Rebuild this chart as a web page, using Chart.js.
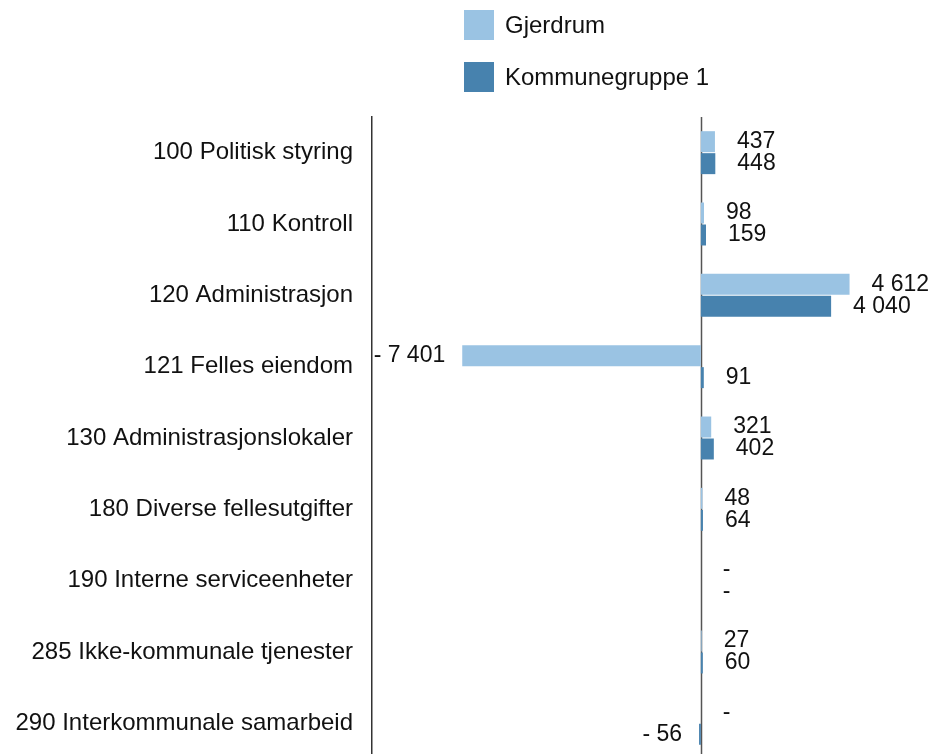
<!DOCTYPE html>
<html>
<head>
<meta charset="utf-8">
<script src="https://cdn.jsdelivr.net/npm/chart.js@4.4.1/dist/chart.umd.min.js"></script>
<style>
  html, body { margin: 0; padding: 0; background: #fff; overflow: hidden; }
  #wrap { position: relative; width: 933px; height: 759px; }
  #legend { position: absolute; left: 464px; top: 10px; font-family: "Liberation Sans", Arial, sans-serif; font-size: 24px; color: #111; }
  #legend .item { display: flex; align-items: center; height: 30px; margin-bottom: 22px; }
  #legend .box { width: 30px; height: 30px; margin-right: 11px; }
</style>
</head>
<body>
<div id="wrap">
  <canvas id="chart" width="933" height="759"></canvas>
  <div id="legend"></div>
</div>
<script>
var categories = [
  '100 Politisk styring',
  '110 Kontroll',
  '120 Administrasjon',
  '121 Felles eiendom',
  '130 Administrasjonslokaler',
  '180 Diverse fellesutgifter',
  '190 Interne serviceenheter',
  '285 Ikke-kommunale tjenester',
  '290 Interkommunale samarbeid'
];
var gjerdrum = [437, 98, 4612, -7401, 321, 48, 0, 27, 0];
var kommunegruppe = [448, 159, 4040, 91, 402, 64, 0, 60, -56];
var seriesNames = ['Gjerdrum', 'Kommunegruppe 1'];
var seriesColors = ['#9ac3e3', '#4782ae'];

var fontFamily = '"Liberation Sans", Arial, sans-serif';

// norsk tallformat: mellomrom som tusenskille, "-" for null
function formatValue(v) {
  if (v === 0) {
    return '-';
  }
  var s = Math.abs(v).toString().replace(/\B(?=(\d{3})+(?!\d))/g, ' ');
  return v < 0 ? '- ' + s : s;
}

// loddrett nullinje gjennom hele plottet
var zeroLine = {
  id: 'zeroLine',
  beforeDatasetsDraw(chart) {
    var ctx = chart.ctx;
    var x = Math.round(chart.scales.x.getPixelForValue(0)) + 0.5;
    ctx.save();
    ctx.strokeStyle = '#555';
    ctx.lineWidth = 1.5;
    ctx.beginPath();
    ctx.moveTo(x, chart.chartArea.top);
    ctx.lineTo(x, chart.chartArea.bottom);
    ctx.stroke();
    ctx.restore();
  }
};

var valueLabels = {
  id: 'valueLabels',
  afterDatasetsDraw(chart) {
    var ctx = chart.ctx;
    ctx.save();
    ctx.font = '23px ' + fontFamily;
    ctx.fillStyle = '#111';
    ctx.textBaseline = 'middle';
    chart.data.datasets.forEach((ds, i) => {
      var meta = chart.getDatasetMeta(i);
      meta.data.forEach((bar, j) => {
        var v = ds.data[j];
        var text = formatValue(v);
        if (v < 0) {
          ctx.textAlign = 'right';
          ctx.fillText(text, bar.x - 17, bar.y);
        } else {
          ctx.textAlign = 'left';
          ctx.fillText(text, bar.x + 22, bar.y);
        }
      });
    });
    ctx.restore();
  }
};

var chart = new Chart(document.getElementById('chart').getContext('2d'), {
  type: 'bar',
  data: {
    labels: categories,
    datasets: [
      { label: seriesNames[0], data: gjerdrum, backgroundColor: seriesColors[0] },
      { label: seriesNames[1], data: kommunegruppe, backgroundColor: seriesColors[1] }
    ]
  },
  options: {
    indexAxis: 'y',
    responsive: false,
    animation: false,
    devicePixelRatio: 1,
    categoryPercentage: 0.616,
    barPercentage: 0.955,
    layout: { padding: { top: 117, left: 0, right: 0, bottom: 0 } },
    plugins: {
      legend: { display: false },
      tooltip: { enabled: false }
    },
    scales: {
      x: {
        min: -10200,
        max: 7200,
        ticks: { display: false },
        grid: { display: false, drawTicks: false },
        border: { display: false },
        afterFit: s => { s.height = 0; }
      },
      y: {
        ticks: { color: '#111', font: { size: 24, family: fontFamily }, padding: 19 },
        grid: { display: false, drawTicks: false },
        border: { display: true, color: '#333', width: 1.5 },
        afterFit: s => {
          s.width = 372;
          s.paddingTop = 0;
          s.paddingBottom = 0;
        }
      }
    }
  },
  plugins: [zeroLine, valueLabels]
});

// legende som egen html-blokk, loddrett oppsatt
var legendEl = document.getElementById('legend');
chart.data.datasets.forEach(ds => {
  var item = document.createElement('div');
  item.className = 'item';
  var box = document.createElement('span');
  box.className = 'box';
  box.style.background = ds.backgroundColor;
  var label = document.createElement('span');
  label.textContent = ds.label;
  item.appendChild(box);
  item.appendChild(label);
  legendEl.appendChild(item);
});
</script>
</body>
</html>
